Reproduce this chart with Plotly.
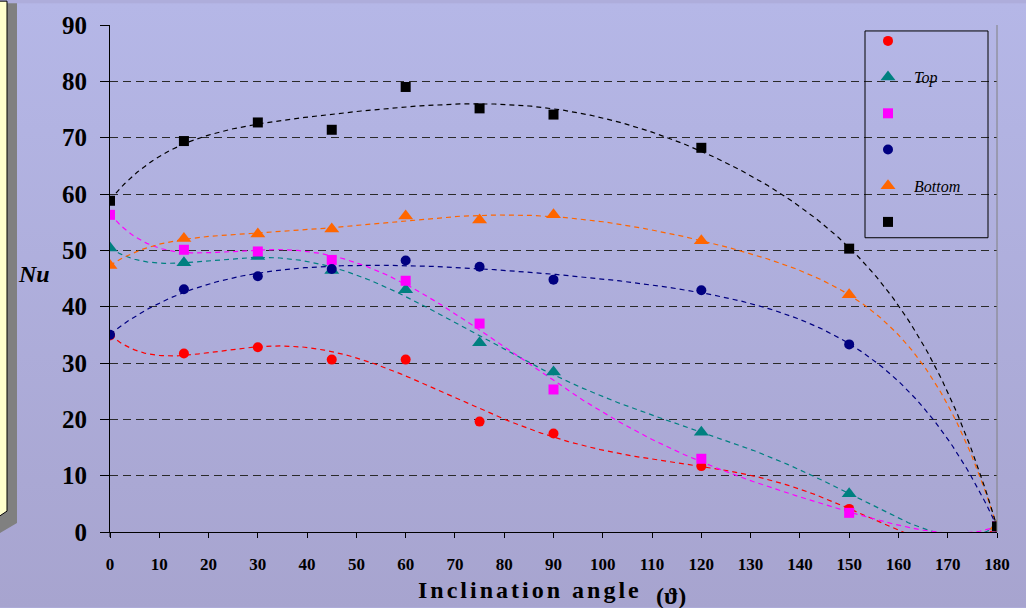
import base64
import numpy as np
import plotly.graph_objects as go

# ---------------- data ----------------
angles = [0, 15, 30, 45, 60, 75, 90, 120, 150, 180]
nu_red = [34.9, 31.7, 32.8, 30.6, 30.6, 19.6, 17.5, 11.7, 4.1, 0.9]
nu_teal = [50.4, 47.8, 48.9, 46.4, 43.0, 33.6, 28.4, 17.7, 6.8, 1.0]
nu_pink = [56.3, 50.1, 49.8, 48.3, 44.6, 37.0, 25.3, 13.0, 3.4, 1.0]
nu_navy = [35.0, 43.1, 45.4, 46.7, 48.2, 47.1, 44.8, 42.9, 33.3, 1.0]
nu_orange = [47.3, 52.1, 52.9, 53.8, 56.1, 55.4, 56.3, 51.7, 42.1, 1.0]
nu_black = [58.8, 69.4, 72.7, 71.4, 79.0, 75.2, 74.1, 68.2, 50.3, 1.0]
series_names = ["", "Top", "", "", "Bottom", ""]
x_ticks = list(range(0, 181, 10))
y_ticks = list(range(0, 91, 10))

# ---------------- geometry ----------------
W, H = 1026, 608
L, R, T, B = 110, 29, 22, 76
PW, PH = W - L - R, H - T - B


def px(xp):
    return (xp - L) / PW


def py(yp):
    return (H - B - yp) / PH


series = [
    (nu_red, "#FF0000", "circle", 10),
    (nu_teal, "#008080", "triangle-up", 13),
    (nu_pink, "#FF00FF", "square", 10),
    (nu_navy, "#000080", "circle", 10),
    (nu_orange, "#FF6600", "triangle-up", 13),
    (nu_black, "#000000", "square", 10),
]

fig = go.Figure()
xs = np.linspace(0, 180, 361)
for vals, col, sym, sz in series:
    poly = np.polynomial.Polynomial.fit(angles, vals, 6)
    fig.add_trace(go.Scatter(x=xs, y=poly(xs), mode="lines",
                             line=dict(color=col, width=1.2, dash="5px,4px"),
                             showlegend=False, hoverinfo="skip"))
for i, ((vals, col, sym, sz), name) in enumerate(zip(series, series_names)):
    fig.add_trace(go.Scatter(x=angles, y=vals, mode="markers", name=name,
                             legendgroup=f"g{i}",
                             marker=dict(color=col, symbol=sym, size=sz,
                                         line=dict(width=0))))

# gradient background image
svg = (f'<svg xmlns="http://www.w3.org/2000/svg" width="{W}" height="{H}">'
       '<defs><linearGradient id="g" x1="0" y1="0" x2="0" y2="1">'
       '<stop offset="0" stop-color="rgb(181,183,231)"/>'
       '<stop offset="1" stop-color="rgb(167,164,207)"/>'
       '</linearGradient></defs>'
       f'<rect width="{W}" height="{H}" fill="url(#g)"/></svg>')
uri = "data:image/svg+xml;base64," + base64.b64encode(svg.encode()).decode()

serif = "Liberation Serif, Times New Roman, serif"

shapes = [
    # left panel shadow
    dict(type="path", xref="paper", yref="paper",
         path=f"M {px(0)},{py(533)} L {px(17)},{py(523)} L {px(17)},{py(0)} "
              f"L {px(7)},{py(0)} L {px(7)},{py(511)} L {px(0)},{py(516)} Z",
         fillcolor="#808080", line=dict(width=0), layer="above"),
    dict(type="path", xref="paper", yref="paper",
         path=f"M {px(-2)},{py(-2)} L {px(7)},{py(-2)} L {px(7)},{py(511)} L {px(-2)},{py(517)} Z",
         fillcolor="#FFFFCC", line=dict(color="black", width=1), layer="above"),
    # right border of plot
    dict(type="line", xref="paper", yref="paper", x0=1, x1=1, y0=0, y1=1,
         line=dict(color="#808080", width=1)),
    # y axis line extension below zero
    dict(type="line", xref="paper", yref="paper", x0=0, x1=0, y0=py(537), y1=0,
         line=dict(color="black", width=1)),
    # legend box
    dict(type="rect", xref="paper", yref="paper",
         x0=px(865), x1=px(988), y0=py(236), y1=py(28),
         line=dict(color="black", width=1), fillcolor="rgba(0,0,0,0)", layer="above"),
]

annotations = [
    dict(text="<b><i>Nu</i></b>", xref="paper", yref="paper",
         x=px(34), y=py(272), xanchor="center", yanchor="middle", showarrow=False,
         font=dict(family=serif, size=24, color="black")),
    dict(text='<b><span style="letter-spacing:3px">Inclination angle</span></b>',
         xref="paper", yref="paper", x=px(416), y=py(590), xanchor="left",
         yanchor="middle", showarrow=False,
         font=dict(family=serif, size=24, color="black")),
    dict(text="<b>(ϑ)</b>", xref="paper", yref="paper", x=px(671), y=py(596),
         xanchor="center", yanchor="middle", showarrow=False,
         font=dict(family=serif, size=24, color="black")),
]

fig.update_layout(
    width=W, height=H,
    margin=dict(l=L, r=R, t=T, b=B, pad=0),
    paper_bgcolor="rgb(174,173,219)",
    plot_bgcolor="rgba(0,0,0,0)",
    images=[dict(source=uri, xref="paper", yref="paper", x=-L / PW, y=1 + T / PH,
                 sizex=W / PW, sizey=H / PH, sizing="stretch", layer="below",
                 xanchor="left", yanchor="top")],
    shapes=shapes,
    annotations=annotations,
    showlegend=True,
    legend=dict(x=px(862), y=py(21), xanchor="left", yanchor="top",
                bgcolor="rgba(0,0,0,0)", borderwidth=0, itemwidth=42,
                tracegroupgap=12.4, traceorder="grouped",
                font=dict(family=serif, size=16, color="black", style="italic")),
    xaxis=dict(range=[0, 180], tickvals=x_ticks, ticktext=[str(v) for v in x_ticks],
               showgrid=False, zeroline=False, showline=True, linecolor="black",
               linewidth=1, ticks="outside", ticklen=5, tickcolor="black",
               tickfont=dict(family=serif, size=17, color="black", weight="bold"),
               ticklabelstandoff=12),
    yaxis=dict(range=[0, 90], tickvals=y_ticks, ticktext=[str(v) for v in y_ticks],
               showgrid=True, gridcolor="#2a2a2a", gridwidth=1, griddash="8px,5px",
               zeroline=False, showline=True, linecolor="black", linewidth=1,
               ticks="outside", ticklen=9, tickcolor="black",
               tickfont=dict(family=serif, size=25, color="black", weight="bold"),
               ticklabelstandoff=8),
)

fig.write_html("out.html", config={"displayModeBar": False},
               post_script="document.body.style.margin='0px';")
